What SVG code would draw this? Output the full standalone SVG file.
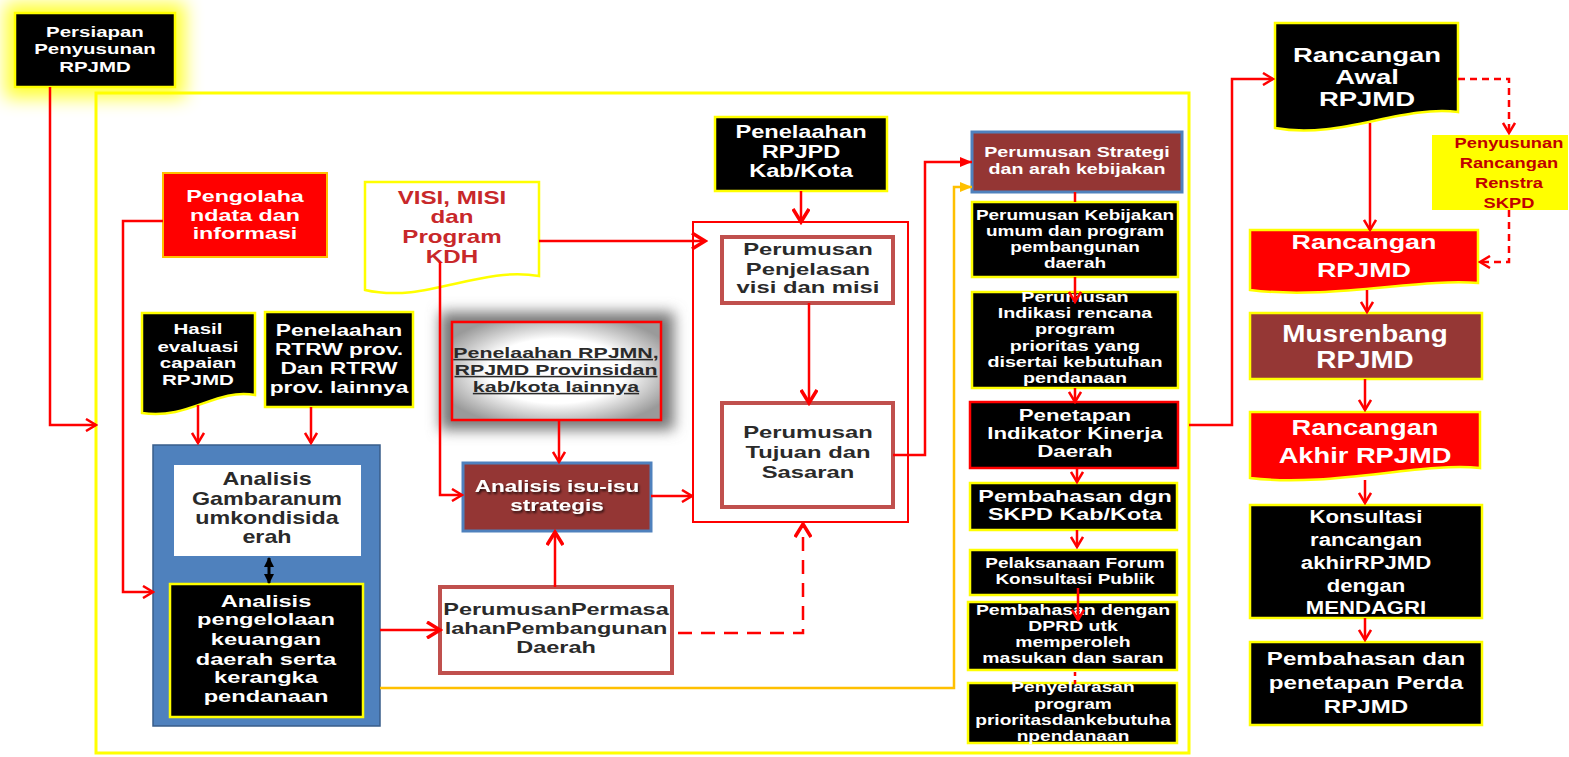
<svg xmlns="http://www.w3.org/2000/svg" width="1569" height="757" viewBox="0 0 1569 757">
<defs>
<style>
text{font-family:"Liberation Sans","DejaVu Sans",sans-serif;font-weight:bold;text-anchor:middle}
.w{fill:#fff}
.d{fill:#2a2a2a}
.blk{fill:#000;stroke:#FFFF00;stroke-width:2.5}
.redbox{fill:#fff;stroke:#C0504D;stroke-width:4}
.c{fill:none;stroke:#FF0000;stroke-width:2.5}
</style>
<filter id="glow" x="-50%" y="-50%" width="200%" height="200%"><feGaussianBlur stdDeviation="9"/></filter>
<filter id="shadow" x="-30%" y="-30%" width="160%" height="160%"><feGaussianBlur stdDeviation="7"/></filter>
<filter id="ts" x="-10%" y="-10%" width="120%" height="130%"><feDropShadow dx="1" dy="2" stdDeviation="1" flood-color="#000" flood-opacity="0.7"/></filter>
<radialGradient id="rg" cx="50%" cy="50%" r="60%"><stop offset="55%" stop-color="#fff"/><stop offset="100%" stop-color="#9a9a9a"/></radialGradient>
<marker id="ao" viewBox="0 0 14 14" refX="12" refY="7" markerWidth="14" markerHeight="14" markerUnits="userSpaceOnUse" orient="auto"><path d="M2,1 L12,7 L2,13" fill="none" stroke="#FF0000" stroke-width="2.5"/></marker>
<marker id="aoL" viewBox="0 0 18 18" refX="15" refY="9" markerWidth="18" markerHeight="18" markerUnits="userSpaceOnUse" orient="auto"><path d="M2,1 L15,9 L2,17" fill="none" stroke="#FF0000" stroke-width="3.5"/></marker>
<marker id="af" viewBox="0 0 12 12" refX="12" refY="6" markerWidth="12" markerHeight="12" markerUnits="userSpaceOnUse" orient="auto"><path d="M0,1 L12,6 L0,11 Z" fill="#FF0000"/></marker>
<marker id="ay" viewBox="0 0 12 12" refX="12" refY="6" markerWidth="12" markerHeight="12" markerUnits="userSpaceOnUse" orient="auto"><path d="M0,1 L12,6 L0,11 Z" fill="#FFC000"/></marker>
<marker id="ab" viewBox="0 0 10 10" refX="9" refY="5" markerWidth="10" markerHeight="10" markerUnits="userSpaceOnUse" orient="auto-start-reverse"><path d="M0,0 L10,5 L0,10 Z" fill="#000"/></marker>
</defs>
<rect width="1569" height="757" fill="#fff"/>

<g id="frame"><rect x="96" y="93" width="1093" height="660" fill="none" stroke="#FFFF00" stroke-width="3"/></g>

<g id="persiapan">
<rect x="5" y="3" width="180" height="95" fill="#FFFF00" opacity="0.8" filter="url(#glow)"/>
<rect x="15" y="13" width="160" height="74" class="blk"/>
<g transform="matrix(1.32 0 0 1 -30.4 0)" font-size="15.5">
<text class="w" x="95" y="37">Persiapan</text>
<text class="w" x="95" y="54">Penyusunan</text>
<text class="w" x="95" y="72">RPJMD</text>
</g>
</g>

<g id="pengolahan">
<rect x="163" y="173" width="164" height="84" fill="#FF0000" stroke="#FFC000" stroke-width="2"/>
<g transform="matrix(1.41 0 0 1 -100.45 0)" font-size="16.5">
<text class="w" x="245" y="202">Pengolaha</text>
<text class="w" x="245" y="221">ndata dan</text>
<text class="w" x="245" y="239">informasi</text>
</g>
</g>

<g id="visi">
<path d="M365,182 H539 V276 C478,266 426,304 365,290 Z" fill="#fff" stroke="#FFFF00" stroke-width="2.5"/>
<g transform="matrix(1.38 0 0 1 -171.76 0)" font-size="17.5" fill="#C8282A">
<text x="452" y="204">VISI, MISI</text>
<text x="452" y="223">dan</text>
<text x="452" y="243">Program</text>
<text x="452" y="263">KDH</text>
</g>
</g>

<g id="hasil">
<path d="M142,313 H255 V395 C215,388 190,420 142,413 Z" class="blk"/>
<g transform="matrix(1.37 0 0 1 -73.26 0)" font-size="15">
<text class="w" x="198" y="334">Hasil</text>
<text class="w" x="198" y="352">evaluasi</text>
<text class="w" x="198" y="368">capaian</text>
<text class="w" x="198" y="385">RPJMD</text>
</g>
</g>

<g id="rtrw">
<rect x="265" y="312" width="148" height="95" class="blk"/>
<g transform="matrix(1.34 0 0 1 -115.26 0)" font-size="17">
<text class="w" x="339" y="336">Penelaahan</text>
<text class="w" x="339" y="355">RTRW prov.</text>
<text class="w" x="339" y="374">Dan RTRW</text>
<text class="w" x="339" y="393">prov. lainnya</text>
</g>
</g>

<g id="analisis-group">
<rect x="153" y="445" width="227" height="281" fill="#4F81BD" stroke="#385D8A" stroke-width="1.5"/>
</g>
<g id="gambaran">
<rect x="174" y="465" width="187" height="91" fill="#fff"/>
<g transform="matrix(1.33 0 0 1 -88.11 0)" font-size="17.5">
<text class="d" x="267" y="485">Analisis</text>
<text class="d" x="267" y="505">Gambaranum</text>
<text class="d" x="267" y="524">umkondisida</text>
<text class="d" x="267" y="543">erah</text>
</g>
</g>
<g id="pengelolaan">
<rect x="170" y="584" width="193" height="133" class="blk"/>
<g transform="matrix(1.39 0 0 1 -103.74 0)" font-size="17">
<text class="w" x="266" y="607">Analisis</text>
<text class="w" x="266" y="625">pengelolaan</text>
<text class="w" x="266" y="645">keuangan</text>
<text class="w" x="266" y="665">daerah serta</text>
<text class="w" x="266" y="683">kerangka</text>
<text class="w" x="266" y="702">pendanaan</text>
</g>
</g>

<g id="rpjmn">
<rect x="440" y="312" width="234" height="118" fill="#777" filter="url(#shadow)"/>
<rect x="452" y="322" width="209" height="98" fill="url(#rg)" stroke="#FF0000" stroke-width="2.5"/>
<g transform="matrix(1.38 0 0 1 -211.28 0)" font-size="15.5">
<text class="d" text-decoration="underline" x="556" y="358">Penelaahan RPJMN,</text>
<text class="d" text-decoration="underline" x="556" y="375">RPJMD Provinsidan</text>
<text class="d" text-decoration="underline" x="556" y="392">kab/kota lainnya</text>
</g>
</g>

<g id="isu">
<rect x="463" y="463" width="188" height="68" fill="#943634" stroke="#4F81BD" stroke-width="3"/>
<g filter="url(#ts)" transform="matrix(1.32 0 0 1 -178.24 0)" font-size="17">
<text class="w" x="557" y="492">Analisis isu-isu</text>
<text class="w" x="557" y="511">strategis</text>
</g>
</g>

<g id="permasalahan">
<rect x="440" y="587" width="232" height="86" class="redbox"/>
<g transform="matrix(1.38 0 0 1 -211.28 0)" font-size="17">
<text class="d" x="556" y="615">PerumusanPermasa</text>
<text class="d" x="556" y="634">lahanPembangunan</text>
<text class="d" x="556" y="653">Daerah</text>
</g>
</g>

<g id="container"><rect x="693" y="222" width="215" height="300" fill="none" stroke="#FF0000" stroke-width="2"/></g>

<g id="rpjpd">
<rect x="715" y="117" width="172" height="74" class="blk"/>
<g transform="matrix(1.35 0 0 1 -280.35 0)" font-size="17.5">
<text class="w" x="801" y="138">Penelaahan</text>
<text class="w" x="801" y="158">RPJPD</text>
<text class="w" x="801" y="177">Kab/Kota</text>
</g>
</g>

<g id="penjelasan">
<rect x="722" y="237" width="171" height="66" class="redbox"/>
<g transform="matrix(1.4 0 0 1 -323.2 0)" font-size="17">
<text class="d" x="808" y="255">Perumusan</text>
<text class="d" x="808" y="275">Penjelasan</text>
<text class="d" x="808" y="293">visi dan misi</text>
</g>
</g>

<g id="tujuan">
<rect x="722" y="403" width="171" height="104" class="redbox"/>
<g transform="matrix(1.4 0 0 1 -323.2 0)" font-size="17">
<text class="d" x="808" y="438">Perumusan</text>
<text class="d" x="808" y="458">Tujuan dan</text>
<text class="d" x="808" y="478">Sasaran</text>
</g>
</g>

<g id="strategi">
<rect x="972" y="132" width="210" height="60" fill="#943634" stroke="#4F81BD" stroke-width="3"/>
<g transform="matrix(1.31 0 0 1 -333.87 0)" font-size="15">
<text class="w" x="1077" y="157">Perumusan Strategi</text>
<text class="w" x="1077" y="174">dan arah kebijakan</text>
</g>
</g>

<g id="kebijakan">
<rect x="972" y="202" width="206" height="75" class="blk"/>
<g transform="matrix(1.31 0 0 1 -333.25 0)" font-size="14.5">
<text class="w" x="1075" y="220">Perumusan Kebijakan</text>
<text class="w" x="1075" y="236">umum dan program</text>
<text class="w" x="1075" y="252">pembangunan</text>
<text class="w" x="1075" y="268">daerah</text>
</g>
</g>

<g id="indikasi">
<rect x="972" y="292" width="206" height="96" class="blk"/>
<g transform="matrix(1.36 0 0 1 -387 0)" font-size="14.5">
<text class="w" x="1075" y="302">Perumusan</text>
<text class="w" x="1075" y="318">Indikasi rencana</text>
<text class="w" x="1075" y="334">program</text>
<text class="w" x="1075" y="351">prioritas yang</text>
<text class="w" x="1075" y="367">disertai kebutuhan</text>
<text class="w" x="1075" y="383">pendanaan</text>
</g>
</g>

<g id="penetapan">
<rect x="970" y="402" width="208" height="66" fill="#000" stroke="#FF0000" stroke-width="2.5"/>
<g transform="matrix(1.39 0 0 1 -419.25 0)" font-size="16">
<text class="w" x="1075" y="421">Penetapan</text>
<text class="w" x="1075" y="439">Indikator Kinerja</text>
<text class="w" x="1075" y="457">Daerah</text>
</g>
</g>

<g id="skpd">
<rect x="970" y="483" width="207" height="47" class="blk"/>
<g transform="matrix(1.46 0 0 1 -494.5 0)" font-size="16">
<text class="w" x="1075" y="502">Pembahasan dgn</text>
<text class="w" x="1075" y="520">SKPD Kab/Kota</text>
</g>
</g>

<g id="pelaksanaan">
<rect x="970" y="550" width="207" height="45" class="blk"/>
<g transform="matrix(1.31 0 0 1 -333.25 0)" font-size="14.5">
<text class="w" x="1075" y="568">Pelaksanaan Forum</text>
<text class="w" x="1075" y="584">Konsultasi Publik</text>
</g>
</g>

<g id="dprd">
<rect x="968" y="602" width="209" height="68" class="blk"/>
<g transform="matrix(1.34 0 0 1 -364.82 0)" font-size="14.5">
<text class="w" x="1073" y="615">Pembahasan dengan</text>
<text class="w" x="1073" y="631">DPRD utk</text>
<text class="w" x="1073" y="647">memperoleh</text>
<text class="w" x="1073" y="663">masukan dan saran</text>
</g>
</g>

<g id="penyelarasan">
<rect x="968" y="683" width="209" height="60" class="blk"/>
<g transform="matrix(1.32 0 0 1 -343.36 0)" font-size="14.5">
<text class="w" x="1073" y="692">Penyelarasan</text>
<text class="w" x="1073" y="709">program</text>
<text class="w" x="1073" y="725">prioritasdankebutuha</text>
<text class="w" x="1073" y="741">npendanaan</text>
</g>
</g>

<g id="rancangan-awal">
<path d="M1275,23 H1458 V112 C1400,105 1340,140 1275,128 Z" class="blk"/>
<g transform="matrix(1.34 0 0 1 -464.78 0)" font-size="20.5">
<text class="w" x="1367" y="62">Rancangan</text>
<text class="w" x="1367" y="84">Awal</text>
<text class="w" x="1367" y="106">RPJMD</text>
</g>
</g>

<g id="renstra">
<rect x="1432" y="135" width="136" height="75" fill="#FFFF00"/>
<g transform="matrix(1.22 0 0 1 -331.98 0)" font-size="15" fill="#C00000">
<text x="1509" y="148">Penyusunan</text>
<text x="1509" y="168">Rancangan</text>
<text x="1509" y="188">Renstra</text>
<text x="1509" y="208">SKPD</text>
</g>
</g>

<g id="rancangan">
<path d="M1250,230 H1478 V283 C1420,278 1330,300 1250,290 Z" fill="#FF0000" stroke="#FFFF00" stroke-width="2.5"/>
<g transform="matrix(1.28 0 0 1 -381.92 0)" font-size="21">
<text class="w" x="1364" y="249">Rancangan</text>
<text class="w" x="1364" y="277">RPJMD</text>
</g>
</g>

<g id="musrenbang">
<rect x="1250" y="313" width="232" height="66" fill="#953735" stroke="#FFFF00" stroke-width="2.5"/>
<g transform="matrix(1.21 0 0 1 -286.65 0)" font-size="23">
<text class="w" x="1365" y="342">Musrenbang</text>
<text class="w" x="1365" y="368">RPJMD</text>
</g>
</g>

<g id="rancangan-akhir">
<path d="M1250,412 H1480 V468 C1420,462 1330,488 1250,478 Z" fill="#FF0000" stroke="#FFFF00" stroke-width="2.5"/>
<g transform="matrix(1.24 0 0 1 -327.6 0)" font-size="22">
<text class="w" x="1365" y="435">Rancangan</text>
<text class="w" x="1365" y="463">Akhir RPJMD</text>
</g>
</g>

<g id="konsultasi">
<rect x="1250" y="505" width="232" height="113" class="blk"/>
<g transform="matrix(1.23 0 0 1 -314.18 0)" font-size="18">
<text class="w" x="1366" y="523">Konsultasi</text>
<text class="w" x="1366" y="546">rancangan</text>
<text class="w" x="1366" y="569">akhirRPJMD</text>
<text class="w" x="1366" y="592">dengan</text>
<text class="w" x="1366" y="614">MENDAGRI</text>
</g>
</g>

<g id="perda">
<rect x="1250" y="642" width="232" height="83" class="blk"/>
<g transform="matrix(1.27 0 0 1 -368.82 0)" font-size="19">
<text class="w" x="1366" y="665">Pembahasan dan</text>
<text class="w" x="1366" y="689">penetapan Perda</text>
<text class="w" x="1366" y="713">RPJMD</text>
</g>
</g>

<g id="connectors">
<path class="c" d="M50,87 V425 H96" marker-end="url(#ao)"/>
<path class="c" d="M163,221 H123 V592 H153" marker-end="url(#ao)"/>
<path class="c" d="M198,405 V443" marker-end="url(#ao)"/>
<path class="c" d="M311,407 V443" marker-end="url(#ao)"/>
<path d="M269,558 V583" stroke="#000" stroke-width="3" fill="none" marker-start="url(#ab)" marker-end="url(#ab)"/>
<path class="c" d="M380,630 H440" stroke-width="3.5" marker-end="url(#aoL)"/>
<path d="M380,688 H954 V187 H972" fill="none" stroke="#FFC000" stroke-width="2.5" marker-end="url(#ay)"/>
<path class="c" d="M539,241 H705" stroke-width="3" marker-end="url(#aoL)"/>
<path class="c" d="M440,262 V495 H462" stroke-width="2" marker-end="url(#ao)"/>
<path class="c" d="M559,420 V462" stroke-width="1.5" marker-end="url(#ao)"/>
<path class="c" d="M555,587 V532" stroke-width="3.5" marker-end="url(#aoL)"/>
<path class="c" d="M651,496 H692" stroke-width="1.5" marker-end="url(#ao)"/>
<path class="c" d="M678,633 H803 V524" stroke-width="4" stroke-dasharray="14,9" marker-end="url(#aoL)"/>
<path class="c" d="M801,191 V222" stroke-width="3.5" marker-end="url(#aoL)"/>
<path class="c" d="M809,303 V403" stroke-width="4" marker-end="url(#aoL)"/>
<path class="c" d="M893,455 H925 V162 H972" stroke-width="2" marker-end="url(#af)"/>
<path class="c" d="M1075,192 V202"/>
<path class="c" d="M1075,277 V302" marker-end="url(#ao)"/>
<path class="c" d="M1075,388 V402" marker-end="url(#ao)"/>
<path class="c" d="M1077,468 V482" marker-end="url(#ao)"/>
<path class="c" d="M1077,530 V547" marker-end="url(#ao)"/>
<path class="c" d="M1078,588 V620" marker-end="url(#ao)"/>
<path class="c" d="M1075,672 V685" stroke-dasharray="4,4"/>
<path class="c" d="M1189,425 H1232 V79 H1273" marker-end="url(#ao)"/>
<path class="c" d="M1370,123 V230" marker-end="url(#ao)"/>
<path class="c" d="M1458,79 H1509 V133" stroke-dasharray="7,5" marker-end="url(#ao)"/>
<path class="c" d="M1509,210 V262 H1480" stroke-dasharray="7,5" marker-end="url(#ao)"/>
<path class="c" d="M1367,290 V312" marker-end="url(#ao)"/>
<path class="c" d="M1365,379 V410" marker-end="url(#ao)"/>
<path class="c" d="M1365,480 V503" marker-end="url(#ao)"/>
<path class="c" d="M1365,618 V640" marker-end="url(#ao)"/>
</g>
</svg>
